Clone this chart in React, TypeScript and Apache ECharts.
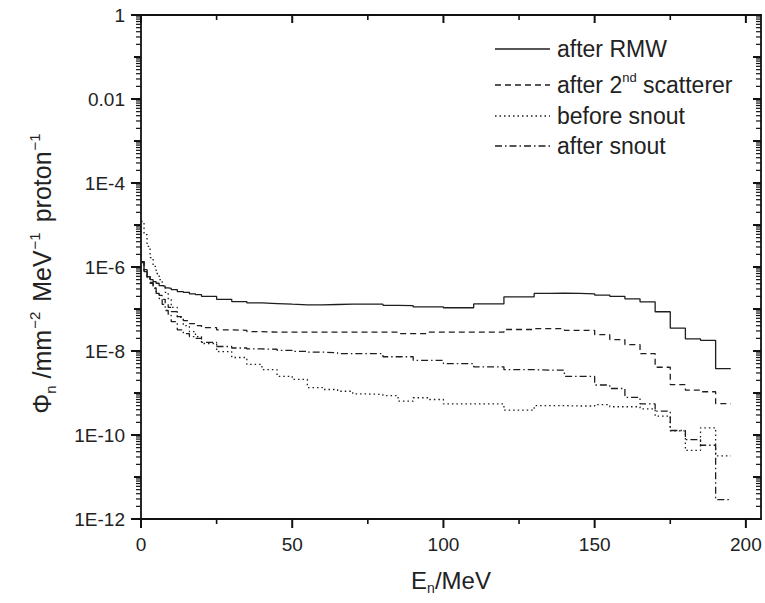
import React, { useEffect, useRef } from 'react';
import * as echarts from 'echarts';

// ---------------- data ----------------
const BIN_EDGES = [0, 1, 2, 3, 4, 5, 6, 7, 8, 9, 10, 12, 14, 16, 18, 20, 25, 30, 35, 40, 45, 50, 55, 60, 65, 70, 75, 80, 85, 90, 95, 100, 105, 110, 115, 120, 125, 130, 135, 140, 145, 150, 155, 160, 165, 170, 175, 180, 185, 190, 195];

const SERIES_NAMES = ['after RMW', 'after 2nd scatterer', 'before snout', 'after snout'];

const AFTER_RMW = [
  1.35e-6, 7.8e-7, 5.9e-7, 5.0e-7, 4.5e-7, 4.1e-7, 3.6e-7, 3.5e-7, 3.2e-7, 3.1e-7,
  2.9e-7, 2.6e-7, 2.5e-7, 2.3e-7, 2.2e-7,
  2.0e-7, 1.7e-7, 1.5e-7, 1.4e-7, 1.35e-7, 1.3e-7, 1.26e-7, 1.26e-7, 1.28e-7, 1.3e-7,
  1.3e-7, 1.3e-7, 1.22e-7, 1.2e-7, 1.12e-7, 1.12e-7, 1.07e-7, 1.07e-7, 1.32e-7, 1.32e-7,
  1.95e-7, 1.95e-7, 2.35e-7, 2.4e-7, 2.35e-7, 2.3e-7, 2.15e-7, 2.0e-7, 1.75e-7, 1.48e-7,
  8.6e-8, 3.5e-8, 1.95e-8, 1.8e-8, 3.8e-9,
];

const AFTER_2ND_SCATTERER = [
  1.35e-6, 8.7e-7, 5.9e-7, 4.3e-7, 3.2e-7, 2.6e-7, 2.1e-7, 1.7e-7, 1.36e-7, 1.09e-7,
  8.7e-8, 6.6e-8, 5.3e-8, 4.5e-8, 4.0e-8,
  3.6e-8, 3.2e-8, 3.1e-8, 2.9e-8, 2.8e-8, 2.8e-8, 2.8e-8, 2.8e-8, 2.8e-8, 2.8e-8,
  2.8e-8, 2.8e-8, 2.8e-8, 2.6e-8, 2.6e-8, 2.8e-8, 2.8e-8, 2.8e-8, 2.8e-8, 2.8e-8,
  3.25e-8, 3.25e-8, 3.4e-8, 3.4e-8, 3.1e-8, 3.1e-8, 2.45e-8, 1.87e-8, 1.42e-8, 8.7e-9,
  4.1e-9, 1.58e-9, 1.17e-9, 1.07e-9, 5.6e-10,
];

const BEFORE_SNOUT = [
  1.21e-5, 5.9e-6, 3.1e-6, 1.68e-6, 1.03e-6, 7.0e-7, 5.0e-7, 3.6e-7, 2.5e-7, 1.68e-7,
  1.09e-7, 6.3e-8, 4.0e-8, 2.9e-8, 2.2e-8,
  1.51e-8, 9.7e-9, 7.0e-9, 4.8e-9, 3.6e-9, 2.5e-9, 2.1e-9, 1.35e-9, 1.21e-9, 1.1e-9,
  9.5e-10, 9.2e-10, 8.7e-10, 6.4e-10, 7.7e-10, 7.0e-10, 5.5e-10, 5.5e-10, 5.5e-10, 5.5e-10,
  3.9e-10, 3.9e-10, 5.0e-10, 5.0e-10, 4.9e-10, 4.9e-10, 5.3e-10, 4.7e-10, 4.7e-10, 4.2e-10,
  2.8e-10, 1.25e-10, 4.3e-11, 1.48e-10, 3.2e-11,
];

const AFTER_SNOUT = [
  1.28e-6, 7.8e-7, 5.6e-7, 4.1e-7, 3.1e-7, 2.35e-7, 1.78e-7, 1.29e-7, 9.2e-8, 7.0e-8,
  5.0e-8, 3.2e-8, 2.6e-8, 2.2e-8, 2.0e-8,
  1.6e-8, 1.28e-8, 1.18e-8, 1.12e-8, 1.1e-8, 1.03e-8, 9.8e-9, 9.4e-9, 9.1e-9, 8.7e-9,
  8.7e-9, 8.7e-9, 7.3e-9, 7.3e-9, 6.0e-9, 6.0e-9, 5.0e-9, 5.0e-9, 4.2e-9, 4.2e-9,
  3.6e-9, 3.6e-9, 3.5e-9, 3.5e-9, 2.5e-9, 2.5e-9, 1.55e-9, 1.28e-9, 7.9e-10, 5.5e-10,
  3.7e-10, 1.28e-10, 7.8e-11, 5.7e-11, 2.9e-12,
];

const X_TICKS = [0, 50, 100, 150, 200];
const X_MINOR_TICKS = [25, 75, 125, 175];
const X_MIN = 0;
const X_MAX = 205;
const Y_MIN = 1e-12;
const Y_MAX = 1;
const Y_LABEL_TICKS = [1, 1e-2, 1e-4, 1e-6, 1e-8, 1e-10, 1e-12];
const Y_ODD_DECADES = [1e-1, 1e-3, 1e-5, 1e-7, 1e-9, 1e-11];
const DECADES = [-12, -11, -10, -9, -8, -7, -6, -5, -4, -3, -2, -1];
const MINOR_MULTIPLIERS = [2, 3, 4, 5, 6, 7, 8, 9];

// ---------------- styles ----------------
const FONT = '"Liberation Sans", Arial, Helvetica, sans-serif';
const AXIS_COLOR = '#111';
const LINE_COLOR = '#1e1e1e';
const DASHES: any[] = ['solid', [6, 4], [1.5, 3], [7, 3, 1.5, 3]];
const LEGEND_Y = [49, 85, 116, 146];

function toSteps(values: number[]) {
  const pts: number[][] = values.map((v, i) => [BIN_EDGES[i], v]);
  pts.push([BIN_EDGES[values.length], values[values.length - 1]]);
  return pts;
}

const Y_MINOR_TICKS: number[] = [];
DECADES.forEach((d) => {
  MINOR_MULTIPLIERS.forEach((m) => {
    Y_MINOR_TICKS.push(m * Math.pow(10, d));
  });
});

function yLabel(v: number) {
  const e = Math.round(Math.log10(v));
  if (e === 0) return '1';
  if (e === -2) return '0.01';
  return '1E' + e;
}

const titleRich = {
  b: { fontSize: 24, fontFamily: FONT, lineHeight: 30, verticalAlign: 'middle', fill: '#222' },
  sub: { fontSize: 14, fontFamily: FONT, lineHeight: 14, verticalAlign: 'bottom', fill: '#222' },
  sup: { fontSize: 14, fontFamily: FONT, lineHeight: 14, verticalAlign: 'top', fill: '#222' },
};
const yTitleRich = {
  b: { fontSize: 25, fontFamily: FONT, lineHeight: 31, verticalAlign: 'middle', fill: '#222' },
  sub: { fontSize: 15, fontFamily: FONT, lineHeight: 15, verticalAlign: 'bottom', fill: '#222' },
  sup: { fontSize: 15, fontFamily: FONT, lineHeight: 15, verticalAlign: 'top', fill: '#222', padding: [0, 3, 0, 1] },
};

const legendTexts = [
  '{b|after RMW}',
  '{b|after 2}{sup|nd}{b| scatterer}',
  '{b|before snout}',
  '{b|after snout}',
];

// tick marks drawn by a custom series, placed through the axes' own scales
function tickSeries(points: number[][], dx: number, dy: number, width: number) {
  return {
    type: 'custom',
    xAxisIndex: 0,
    yAxisIndex: 0,
    data: points,
    silent: true,
    clip: false,
    z: 10,
    renderItem: (_p: any, api: any) => {
      const c = api.coord([api.value(0), api.value(1)]);
      return {
        type: 'rect',
        shape: {
          x: Math.min(c[0], c[0] + dx) - (dx === 0 ? width / 2 : 0),
          y: Math.min(c[1], c[1] + dy) - (dy === 0 ? width / 2 : 0),
          width: dx === 0 ? width : Math.abs(dx),
          height: dy === 0 ? width : Math.abs(dy),
        },
        style: { fill: AXIS_COLOR },
      };
    },
  };
}

export default function App() {
  const ref = useRef<HTMLDivElement>(null);

  useEffect(() => {
    if (!ref.current) return;
    const chart = echarts.init(ref.current, undefined, { renderer: 'svg' });

    const seriesData = [AFTER_RMW, AFTER_2ND_SCATTERER, BEFORE_SNOUT, AFTER_SNOUT];

    const lineSeries = seriesData.map((vals, i) => ({
      name: SERIES_NAMES[i],
      type: 'line',
      step: 'end',
      data: toSteps(vals),
      xAxisIndex: 0,
      yAxisIndex: 0,
      showSymbol: false,
      symbol: 'none',
      silent: true,
      lineStyle: { color: LINE_COLOR, width: 1.3, type: DASHES[i] },
      z: 5,
    }));

    const leftOf = (vals: number[]) => vals.map((v) => [X_MIN, v]);
    const rightOf = (vals: number[]) => vals.map((v) => [X_MAX, v]);
    const bottomOf = (vals: number[]) => vals.map((v) => [v, Y_MIN]);
    const topOf = (vals: number[]) => vals.map((v) => [v, Y_MAX]);
    const allDecades = [...Y_LABEL_TICKS, ...Y_ODD_DECADES];

    const tickSeriesList = [
      tickSeries(leftOf(Y_LABEL_TICKS), -10, 0, 2),
      tickSeries(leftOf(Y_ODD_DECADES), -7, 0, 2),
      tickSeries(leftOf(Y_MINOR_TICKS), -5, 0, 1.2),
      tickSeries(rightOf(allDecades), -8, 0, 2),
      tickSeries(rightOf(Y_MINOR_TICKS), -5, 0, 1.2),
      tickSeries(bottomOf(X_TICKS), 0, 9, 2),
      tickSeries(bottomOf(X_MINOR_TICKS), 0, 5, 1.6),
      tickSeries(topOf(X_TICKS), 0, 8, 2),
      tickSeries(topOf(X_MINOR_TICKS), 0, 5, 1.6),
    ];

    const graphics: any[] = [];
    SERIES_NAMES.forEach((_, i) => {
      graphics.push({
        type: 'line',
        shape: { x1: 495, y1: LEGEND_Y[i], x2: 550, y2: LEGEND_Y[i] },
        style: {
          stroke: LINE_COLOR,
          lineWidth: 1.3,
          lineDash: i === 0 ? null : DASHES[i],
        },
      });
      graphics.push({
        type: 'text',
        x: 557,
        y: LEGEND_Y[i],
        style: {
          text: legendTexts[i],
          rich: {
            b: { fontSize: 23, fontFamily: FONT, lineHeight: 28, verticalAlign: 'middle', fill: '#222' },
            sup: { fontSize: 13, fontFamily: FONT, lineHeight: 13, verticalAlign: 'top', fill: '#222' },
          },
          align: 'left',
          verticalAlign: 'middle',
        },
      });
    });
    graphics.push({
      type: 'text',
      x: 451,
      y: 580,
      style: {
        text: '{b|E}{sub|n}{b|/MeV}',
        rich: titleRich,
        align: 'center',
        verticalAlign: 'middle',
      },
    });
    graphics.push({
      type: 'text',
      x: 42,
      y: 272,
      rotation: Math.PI / 2,
      style: {
        text: '{b|Φ}{sub|n}{b| /mm}{sup|−2}{b| MeV}{sup|−1}{b| proton}{sup|−1}',
        rich: yTitleRich,
        align: 'center',
        verticalAlign: 'middle',
      },
    });

    const option: any = {
      animation: false,
      backgroundColor: '#fff',
      grid: { left: 141, right: 4, top: 15, bottom: 84, containLabel: false },
      xAxis: [
        {
          type: 'value',
          position: 'bottom',
          min: X_MIN,
          max: X_MAX,
          interval: 50,
          axisTick: { show: false },
          splitLine: { show: false },
          axisLine: { show: true, onZero: false, lineStyle: { color: AXIS_COLOR, width: 1.8 } },
          axisLabel: { customValues: X_TICKS, fontSize: 19, fontFamily: FONT, color: '#222', margin: 16 },
        },
        {
          type: 'value',
          position: 'top',
          min: X_MIN,
          max: X_MAX,
          interval: 50,
          axisTick: { show: false },
          splitLine: { show: false },
          axisLine: { show: true, onZero: false, lineStyle: { color: AXIS_COLOR, width: 1.8 } },
          axisLabel: { show: false },
        },
      ],
      yAxis: [
        {
          type: 'log',
          logBase: 10,
          position: 'left',
          min: Y_MIN,
          max: Y_MAX,
          interval: 2,
          axisTick: { show: false },
          splitLine: { show: false },
          axisLine: { show: true, onZero: false, lineStyle: { color: AXIS_COLOR, width: 1.8 } },
          axisLabel: { formatter: yLabel, fontSize: 19, fontFamily: FONT, color: '#222', margin: 16 },
        },
        {
          type: 'log',
          logBase: 10,
          position: 'right',
          min: Y_MIN,
          max: Y_MAX,
          interval: 1,
          axisTick: { show: false },
          splitLine: { show: false },
          axisLine: { show: true, onZero: false, lineStyle: { color: AXIS_COLOR, width: 1.8 } },
          axisLabel: { show: false },
        },
      ],
      series: [...lineSeries, ...tickSeriesList],
      graphic: graphics,
    };

    chart.setOption(option);
    return () => chart.dispose();
  }, []);

  return <div ref={ref} style={{ position: 'fixed', left: 0, top: 0, width: 765, height: 603 }} />;
}
